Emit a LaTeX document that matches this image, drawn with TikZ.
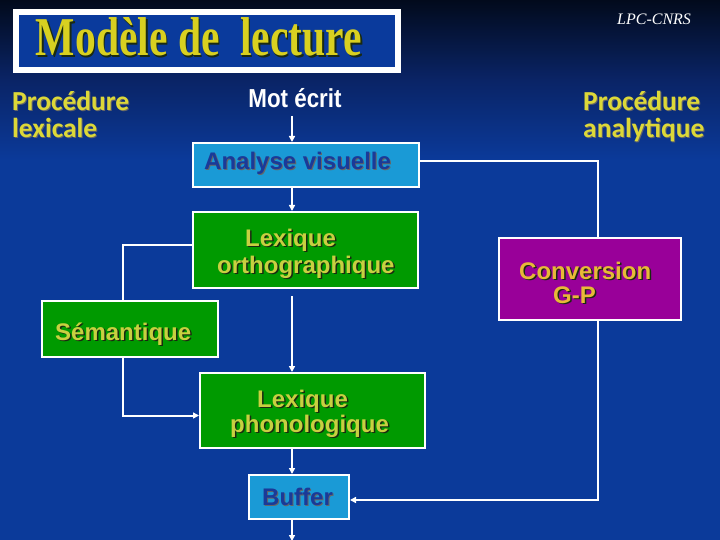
\documentclass[tikz,border=0pt]{standalone}
\usepackage{fontspec}
\usepackage{graphicx}
\setmainfont{Liberation Sans}
\newfontfamily\calib{Carlito}
\newfontfamily\timesf{Liberation Serif}
\usetikzlibrary{arrows.meta}
\definecolor{bgtop}{HTML}{020A1C}
\definecolor{bgmid}{HTML}{0A2466}
\definecolor{bgbot}{HTML}{0B3A9A}
\definecolor{titlebg}{HTML}{0A3A9C}
\definecolor{titley}{HTML}{D8D020}
\definecolor{procy}{HTML}{DCD838}
\definecolor{greenbox}{HTML}{009A00}
\definecolor{greentext}{HTML}{C8D040}
\definecolor{lightblue}{HTML}{1A9AD6}
\definecolor{darkbluetext}{HTML}{1A3A98}
\definecolor{purplebox}{HTML}{990099}
\definecolor{purpletext}{HTML}{E8B838}
\definecolor{shadowc}{HTML}{1A2A10}
\newcommand\shad[2]{\rlap{\kern1.5pt\raisebox{-1.5pt}{\color{shadowc}#2}}{\color{#1}#2}}
\newcommand\shadb[2]{\rlap{\kern1pt\raisebox{-1pt}{\color{black!60}#2}}{\color{#1}#2}}
\tikzset{
  box/.style={draw=white, line width=2pt, inner sep=0pt, anchor=north west},
  lbl/.style={anchor=base west, inner sep=0pt, font=\fontsize{24pt}{28pt}\selectfont\bfseries},
  proc/.style={anchor=base west, inner sep=0pt, font=\calib\fontsize{27.5pt}{28pt}\selectfont\bfseries},
  conn/.style={draw=white, line width=2pt},
  arr/.style={conn, -{Triangle[length=6pt,width=6pt]}}
}
\begin{document}
\begin{tikzpicture}[x=1pt,y=-1pt]
\useasboundingbox (0,0) rectangle (720,540);
\begin{scope}[y=1pt]
\fill[bgbot] (0,0) rectangle (720,-540);
\shade[top color=bgtop, bottom color=bgbot, middle color=bgmid] (0,0) rectangle (720,-160);
\end{scope}
% title
\node[draw=white, line width=6pt, fill=titlebg, minimum width=382pt, minimum height=58pt, inner sep=0pt, anchor=north west] (tbox) at (13,9) {};
\node[inner sep=0pt] (title) at (199,38) {\shad{titley}{\resizebox{326pt}{38pt}{\timesf\bfseries Modèle de\ \ lecture}}};
\node[anchor=base west, inner sep=0pt, font=\timesf\itshape\fontsize{16pt}{18pt}\selectfont, text=white] (lpc) at (617,25) {LPC-CNRS};
% headings
\node[proc] (pl1) at (12,111) {\shadb{procy}{Procédure}};
\node[proc] (pl2) at (12,138) {\shadb{procy}{lexicale}};
\node[proc] (pa1) at (583,111) {\shadb{procy}{Procédure}};
\node[proc] (pa2) at (583,138) {\shadb{procy}{analytique}};
\node[anchor=base, inner sep=0pt, text=white, font=\fontsize{26pt}{28pt}\selectfont\bfseries] (mot) at (295,108) {\scalebox{0.86}[1]{Mot écrit}};
% boxes
\node[box, fill=lightblue, minimum width=226pt, minimum height=44pt] (av) at (192,142) {};
\node[lbl] (avt) at (204,170) {\shadb{darkbluetext}{Analyse visuelle}};
\node[box, fill=greenbox, minimum width=225pt, minimum height=76pt] (lo) at (192,211) {};
\node[lbl] (lo1) at (245,246) {\shad{greentext}{Lexique}};
\node[lbl] (lo2) at (217,273) {\shad{greentext}{orthographique}};
\node[box, fill=greenbox, minimum width=176pt, minimum height=56pt] (sem) at (41,300) {};
\node[lbl] (semt) at (55,340) {\shad{greentext}{Sémantique}};
\node[box, fill=greenbox, minimum width=225pt, minimum height=75pt] (lp) at (199,372) {};
\node[lbl] (lp1) at (257,407) {\shad{greentext}{Lexique}};
\node[lbl] (lp2) at (230,432) {\shad{greentext}{phonologique}};
\node[box, fill=lightblue, minimum width=100pt, minimum height=44pt] (buf) at (248,474) {};
\node[lbl] (buft) at (262,505) {\shadb{darkbluetext}{Buffer}};
\node[box, fill=purplebox, minimum width=182pt, minimum height=82pt] (conv) at (498,237) {};
\node[lbl] (conv1) at (519,279) {\shad{purpletext}{Conversion}};
\node[lbl] (conv2) at (553,303) {\shad{purpletext}{G-P}};
% connectors
\coordinate (xm) at (292,116);
\coordinate (xl) at (123,0);
\coordinate (xr) at (598,0);
\coordinate (bot) at (292,541);
\draw[arr] (xm) -- (xm |- av.north);
\draw[arr] (xm |- av.south) -- (xm |- lo.north);
\draw[arr] ([yshift=-7pt]xm |- lo.south) -- (xm |- lp.north);
\draw[arr] (xm |- lp.south) -- (xm |- buf.north);
\draw[arr] (xm |- buf.south) -- (bot);
\draw[conn] ([yshift=5pt]lo.west) -| (xl |- sem.north);
\draw[arr] (xl |- sem.south) |- ([yshift=-5pt]lp.west);
\draw[conn] ([yshift=4pt]av.east) -| (xr |- conv.north);
\draw[arr] (xr |- conv.south) |- ([yshift=-3pt]buf.east);
\end{tikzpicture}
\end{document}
